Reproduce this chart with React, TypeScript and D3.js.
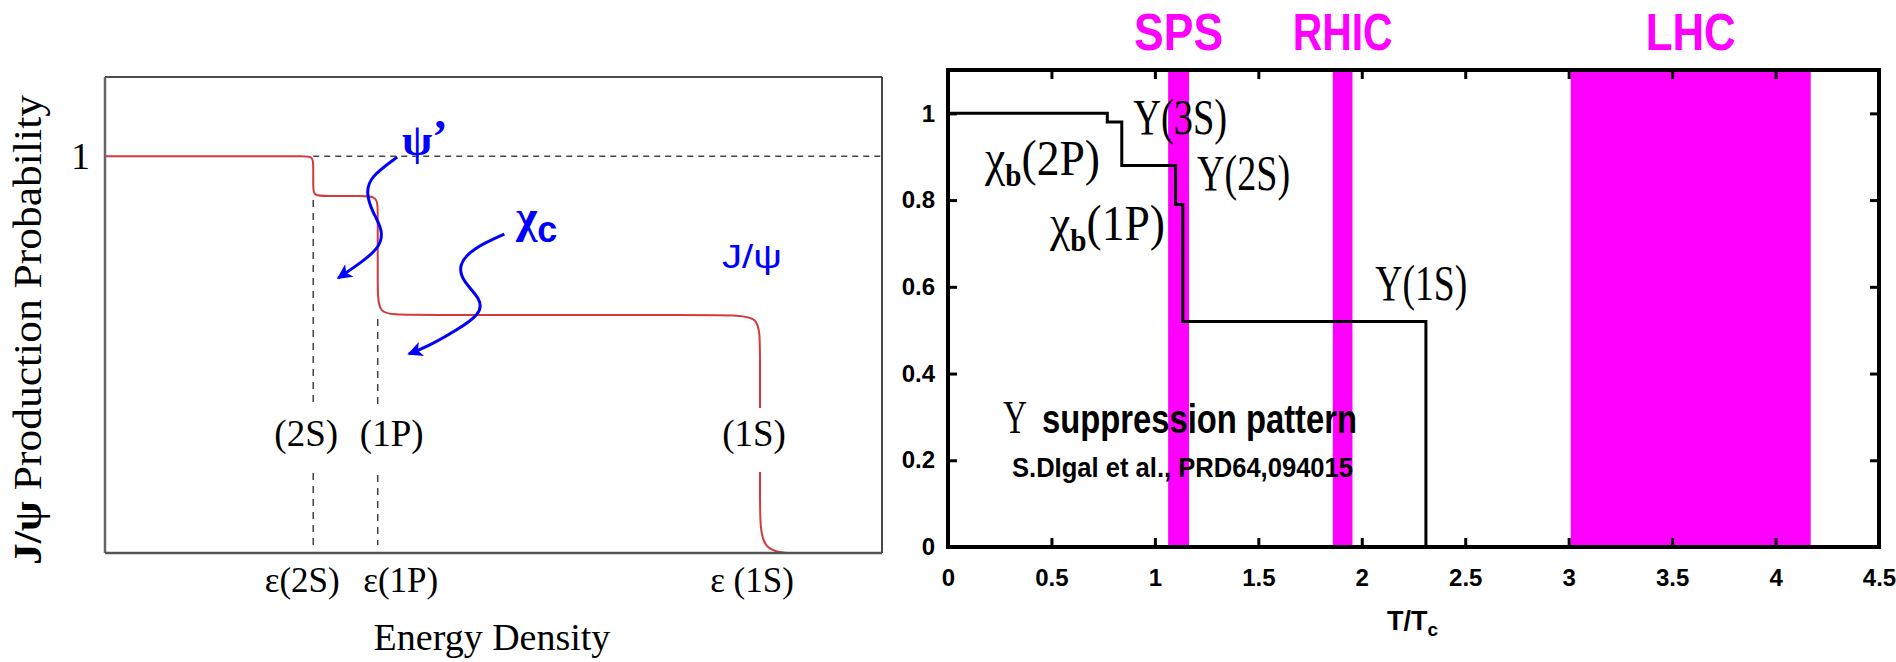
import React, { useEffect, useRef } from 'react';
import * as d3 from 'd3';

// Left panel: schematic J/psi survival vs energy density (arbitrary units)
const curveX = [0, 0.22, 0.255, 0.268, 0.268, 0.268, 0.268, 0.285, 0.33, 0.351, 0.351, 0.351, 0.351, 0.38, 0.80, 0.843, 0.843, 0.843, 0.843, 0.892];
const curveY = [1, 1, 1, 1, 0.975, 0.925, 0.9, 0.9, 0.9, 0.9, 0.86, 0.68, 0.6, 0.6, 0.6, 0.6, 0.52, 0.12, 0, 0];
const thresholdX = [0.268, 0.351, 0.843];
const thresholdNames = ['(2S)', '(1P)', '(1S)'];
const epsilonNames = ['ε(2S)', 'ε(1P)', 'ε (1S)'];
const plateauLevels = [0.9, 0.6];

// blue "decay" arrows (psi' and chi_c feed-down)
const psiArrowX = [0.376, 0.341, 0.336, 0.344, 0.358, 0.354, 0.331, 0.300];
const psiArrowY = [0.998, 0.948, 0.907, 0.860, 0.814, 0.771, 0.734, 0.693];
const chiArrowX = [0.514, 0.474, 0.454, 0.461, 0.485, 0.483, 0.453, 0.414, 0.391];
const chiArrowY = [0.804, 0.769, 0.726, 0.683, 0.638, 0.602, 0.562, 0.519, 0.502];

// Right panel: Upsilon suppression pattern
const tempX = [0, 0.77, 0.84, 1.10, 1.135, 2.31];
const survival = [1.0, 0.98, 0.88, 0.79, 0.52, 0];
const bandNames = ['SPS', 'RHIC', 'LHC'];
const bandFrom = [1.064, 1.86, 3.01];
const bandTo = [1.165, 1.955, 4.17];
const xTicks = [0, 0.5, 1, 1.5, 2, 2.5, 3, 3.5, 4, 4.5];
const yTicks = [0, 0.2, 0.4, 0.6, 0.8, 1];

const serif = '"Liberation Serif", "Times New Roman", serif';
const sans = '"Liberation Sans", Arial, sans-serif';

const App = () => {
  const svgRef = useRef<SVGSVGElement>(null);

  useEffect(() => {
    const svg = d3.select(svgRef.current);
    svg.selectAll('*').remove();

    svg.append('rect').attr('width', 1896).attr('height', 662).attr('fill', '#fff');

    const defs = svg.append('defs');
    defs.append('marker')
      .attr('id', 'blueHead')
      .attr('viewBox', '0 0 10 10')
      .attr('refX', 9)
      .attr('refY', 5)
      .attr('markerWidth', 19)
      .attr('markerHeight', 15)
      .attr('markerUnits', 'userSpaceOnUse')
      .attr('orient', 'auto')
      .append('path')
      .attr('d', 'M0,0 L10,5 L0,10 L2.5,5 Z')
      .attr('fill', '#0000ff');

    // ---------------- left panel ----------------
    const xL = d3.scaleLinear().domain([0, 1]).range([105, 882]);
    const yL = d3.scaleLinear().domain([0, 1.2]).range([553, 77]);
    const left = svg.append('g');

    // dashed guides
    left.append('line')
      .attr('x1', xL(thresholdX[0])).attr('x2', xL(1))
      .attr('y1', yL(1)).attr('y2', yL(1))
      .attr('stroke', '#444').attr('stroke-width', 1.5).attr('stroke-dasharray', '6,5');
    plateauLevels.forEach((lv, i) => {
      left.append('line')
        .attr('x1', xL(thresholdX[i])).attr('x2', xL(thresholdX[i]))
        .attr('y1', yL(lv - 0.01)).attr('y2', yL(0.02))
        .attr('stroke', '#444').attr('stroke-width', 1.5).attr('stroke-dasharray', '7,6');
    });

    // red survival curve
    const redLine = d3.line<number>()
      .x((_, i) => xL(curveX[i]))
      .y(d => yL(d))
      .curve(d3.curveBasis);
    left.append('path')
      .attr('d', redLine(curveY))
      .attr('fill', 'none')
      .attr('stroke', '#d23b3b')
      .attr('stroke-width', 2);

    // frame
    left.append('line').attr('x1', xL(0)).attr('x2', xL(1)).attr('y1', yL(1.2)).attr('y2', yL(1.2))
      .attr('stroke', '#111').attr('stroke-width', 1.6);
    left.append('line').attr('x1', xL(1)).attr('x2', xL(1)).attr('y1', yL(1.2)).attr('y2', yL(0))
      .attr('stroke', '#333').attr('stroke-width', 1.8);
    left.append('line').attr('x1', xL(0)).attr('x2', xL(0)).attr('y1', yL(1.2)).attr('y2', yL(0))
      .attr('stroke', '#666').attr('stroke-width', 2.5);
    left.append('line').attr('x1', xL(0)).attr('x2', xL(1)).attr('y1', yL(0)).attr('y2', yL(0))
      .attr('stroke', '#555').attr('stroke-width', 2.5);

    // labels on the thresholds (white box cuts the lines)
    const labelShift = [-7, 14, -6];
    thresholdNames.forEach((name, i) => {
      const cx = xL(thresholdX[i]) + labelShift[i];
      left.append('rect').attr('x', cx - 36).attr('y', 408).attr('width', 72).attr('height', 64).attr('fill', '#fff');
      left.append('text')
        .attr('x', cx).attr('y', 446)
        .attr('text-anchor', 'middle')
        .attr('font-family', serif).attr('font-size', 37)
        .text(name);
    });

    const epsShift = [-11, 23, -8];
    epsilonNames.forEach((name, i) => {
      left.append('text')
        .attr('x', xL(thresholdX[i]) + epsShift[i]).attr('y', 592)
        .attr('text-anchor', 'middle')
        .attr('font-family', serif).attr('font-size', 35)
        .text(name);
    });

    left.append('text')
      .attr('x', 492).attr('y', 650)
      .attr('text-anchor', 'middle')
      .attr('font-family', serif).attr('font-size', 38)
      .text('Energy Density');

    left.append('text')
      .attr('x', 90).attr('y', yL(1)).attr('dy', '0.33em')
      .attr('text-anchor', 'end')
      .attr('font-family', serif).attr('font-size', 38)
      .text('1');

    const yLab = left.append('text')
      .attr('transform', 'translate(41,330) rotate(-90)')
      .attr('text-anchor', 'middle')
      .attr('font-family', serif).attr('font-size', 40)
      .attr('textLength', 470).attr('lengthAdjust', 'spacingAndGlyphs');
    yLab.append('tspan').attr('font-weight', 'bold').text('J/ψ');
    yLab.append('tspan').text(' Production Probability');

    // blue arrows
    const blueLine = d3.line<number>()
      .x(d => xL(d))
      .curve(d3.curveBasis);
    left.append('path')
      .attr('d', blueLine.y((_, i) => yL(psiArrowY[i]))(psiArrowX))
      .attr('fill', 'none').attr('stroke', '#0000ff').attr('stroke-width', 3)
      .attr('marker-end', 'url(#blueHead)');
    left.append('path')
      .attr('d', blueLine.y((_, i) => yL(chiArrowY[i]))(chiArrowX))
      .attr('fill', 'none').attr('stroke', '#0000ff').attr('stroke-width', 3)
      .attr('marker-end', 'url(#blueHead)');

    const psi = left.append('text')
      .attr('x', 402).attr('y', 155)
      .attr('font-family', serif).attr('font-weight', 'bold').attr('fill', '#0000ff');
    psi.append('tspan').attr('font-size', 44).text('ψ');
    psi.append('tspan').attr('dy', -3).attr('font-size', 46).text('’');

    const chi = left.append('text')
      .attr('x', 516).attr('y', 232)
      .attr('font-weight', 'bold').attr('fill', '#0000ff');
    chi.append('tspan').attr('font-family', serif).attr('font-size', 46).text('χ');
    chi.append('tspan').attr('font-family', sans).attr('font-size', 36).attr('dy', 10).text('c');

    left.append('text')
      .attr('x', 722).attr('y', 268)
      .attr('font-family', sans).attr('font-size', 34).attr('fill', '#0000ff')
      .attr('textLength', 60).attr('lengthAdjust', 'spacingAndGlyphs')
      .text('J/ψ');

    // ---------------- right panel ----------------
    const xR = d3.scaleLinear().domain([0, 4.5]).range([948, 1879]);
    const yR = d3.scaleLinear().domain([0, 1.1]).range([547, 70]);
    const right = svg.append('g');

    bandNames.forEach((name, i) => {
      right.append('rect')
        .attr('x', xR(bandFrom[i]))
        .attr('width', xR(bandTo[i]) - xR(bandFrom[i]))
        .attr('y', yR(1.1))
        .attr('height', yR(0) - yR(1.1))
        .attr('fill', '#ff00ff');
      right.append('text')
        .attr('x', xR((bandFrom[i] + bandTo[i]) / 2)).attr('y', 50)
        .attr('text-anchor', 'middle')
        .attr('font-family', sans).attr('font-weight', 'bold').attr('font-size', 52)
        .attr('fill', '#ff00ff')
        .attr('textLength', [89, 100, 90][i]).attr('lengthAdjust', 'spacingAndGlyphs')
        .text(name);
    });

    const stepLine = d3.line<number>()
      .x((_, i) => xR(tempX[i]))
      .y(d => yR(d))
      .curve(d3.curveStepAfter);
    right.append('path')
      .attr('d', stepLine(survival))
      .attr('fill', 'none')
      .attr('stroke', '#000')
      .attr('stroke-width', 3);

    const styleAxis = (g: d3.Selection<SVGGElement, unknown, null, undefined>) => {
      g.select('.domain').remove();
      g.selectAll('.tick line').attr('stroke', '#000').attr('stroke-width', 3);
      g.selectAll('.tick text')
        .attr('fill', '#000')
        .attr('font-family', sans)
        .attr('font-weight', 'bold')
        .attr('font-size', 24);
    };

    right.append('g')
      .attr('transform', `translate(0,${yR(0)})`)
      .call(d3.axisBottom(xR).tickValues(xTicks).tickSize(-9).tickPadding(22).tickFormat(d => String(d)))
      .call(styleAxis);
    right.append('g')
      .attr('transform', `translate(0,${yR(1.1)})`)
      .call(d3.axisTop(xR).tickValues(xTicks).tickSize(-9).tickFormat(() => ''))
      .call(styleAxis);
    right.append('g')
      .attr('transform', `translate(${xR(0)},0)`)
      .call(d3.axisLeft(yR).tickValues(yTicks).tickSize(-9).tickPadding(13).tickFormat(d => String(d)))
      .call(styleAxis);
    right.append('g')
      .attr('transform', `translate(${xR(4.5)},0)`)
      .call(d3.axisRight(yR).tickValues(yTicks).tickSize(-9).tickFormat(() => ''))
      .call(styleAxis);

    right.append('rect')
      .attr('x', xR(0)).attr('y', yR(1.1))
      .attr('width', xR(4.5) - xR(0)).attr('height', yR(0) - yR(1.1))
      .attr('fill', 'none').attr('stroke', '#000').attr('stroke-width', 4);

    // state labels
    const upsLabel = (txt: string, x: number, y: number, len: number) => {
      right.append('text')
        .attr('x', x).attr('y', y)
        .attr('font-family', serif).attr('font-size', 50)
        .attr('textLength', len).attr('lengthAdjust', 'spacingAndGlyphs')
        .text(txt);
    };
    const chiLabel = (state: string, x: number, y: number, len: number) => {
      const t = right.append('text')
        .attr('x', x).attr('y', y)
        .attr('font-family', serif).attr('font-size', 42)
        .attr('textLength', len).attr('lengthAdjust', 'spacingAndGlyphs');
      t.append('tspan').attr('font-size', 50).text('χ');
      t.append('tspan').attr('font-size', 32).attr('font-weight', 'bold').attr('dy', 11).text('b');
      t.append('tspan').attr('font-size', 50).attr('dy', -11).text(state);
    };
    upsLabel('Υ(3S)', xR(0.895), yR(0.952), 94);
    upsLabel('Υ(2S)', xR(1.204), yR(0.823), 93);
    upsLabel('Υ(1S)', xR(2.065), yR(0.570), 92);
    chiLabel('(2P)', xR(0.179), yR(0.858), 115);
    chiLabel('(1P)', xR(0.493), yR(0.708), 115);

    right.append('text')
      .attr('x', 1003).attr('y', 433)
      .attr('font-family', serif).attr('font-size', 46)
      .attr('textLength', 24).attr('lengthAdjust', 'spacingAndGlyphs')
      .text('Υ');
    right.append('text')
      .attr('x', 1042).attr('y', 433)
      .attr('font-family', sans).attr('font-weight', 'bold').attr('font-size', 40)
      .attr('textLength', 315).attr('lengthAdjust', 'spacingAndGlyphs')
      .text('suppression pattern');
    right.append('text')
      .attr('x', 1012).attr('y', 477)
      .attr('font-family', sans).attr('font-weight', 'bold').attr('font-size', 28)
      .attr('textLength', 341).attr('lengthAdjust', 'spacingAndGlyphs')
      .text('S.DIgal et al., PRD64,094015');

    const tt = right.append('text')
      .attr('x', 1387).attr('y', 630)
      .attr('font-family', sans).attr('font-weight', 'bold');
    tt.append('tspan').attr('font-size', 27).text('T/T');
    tt.append('tspan').attr('font-size', 19).attr('dy', 6).text('c');
  }, []);

  return (
    <svg
      ref={svgRef}
      width={1896}
      height={662}
      style={{ position: 'absolute', left: 0, top: 0, display: 'block' }}
    />
  );
};

export default App;
